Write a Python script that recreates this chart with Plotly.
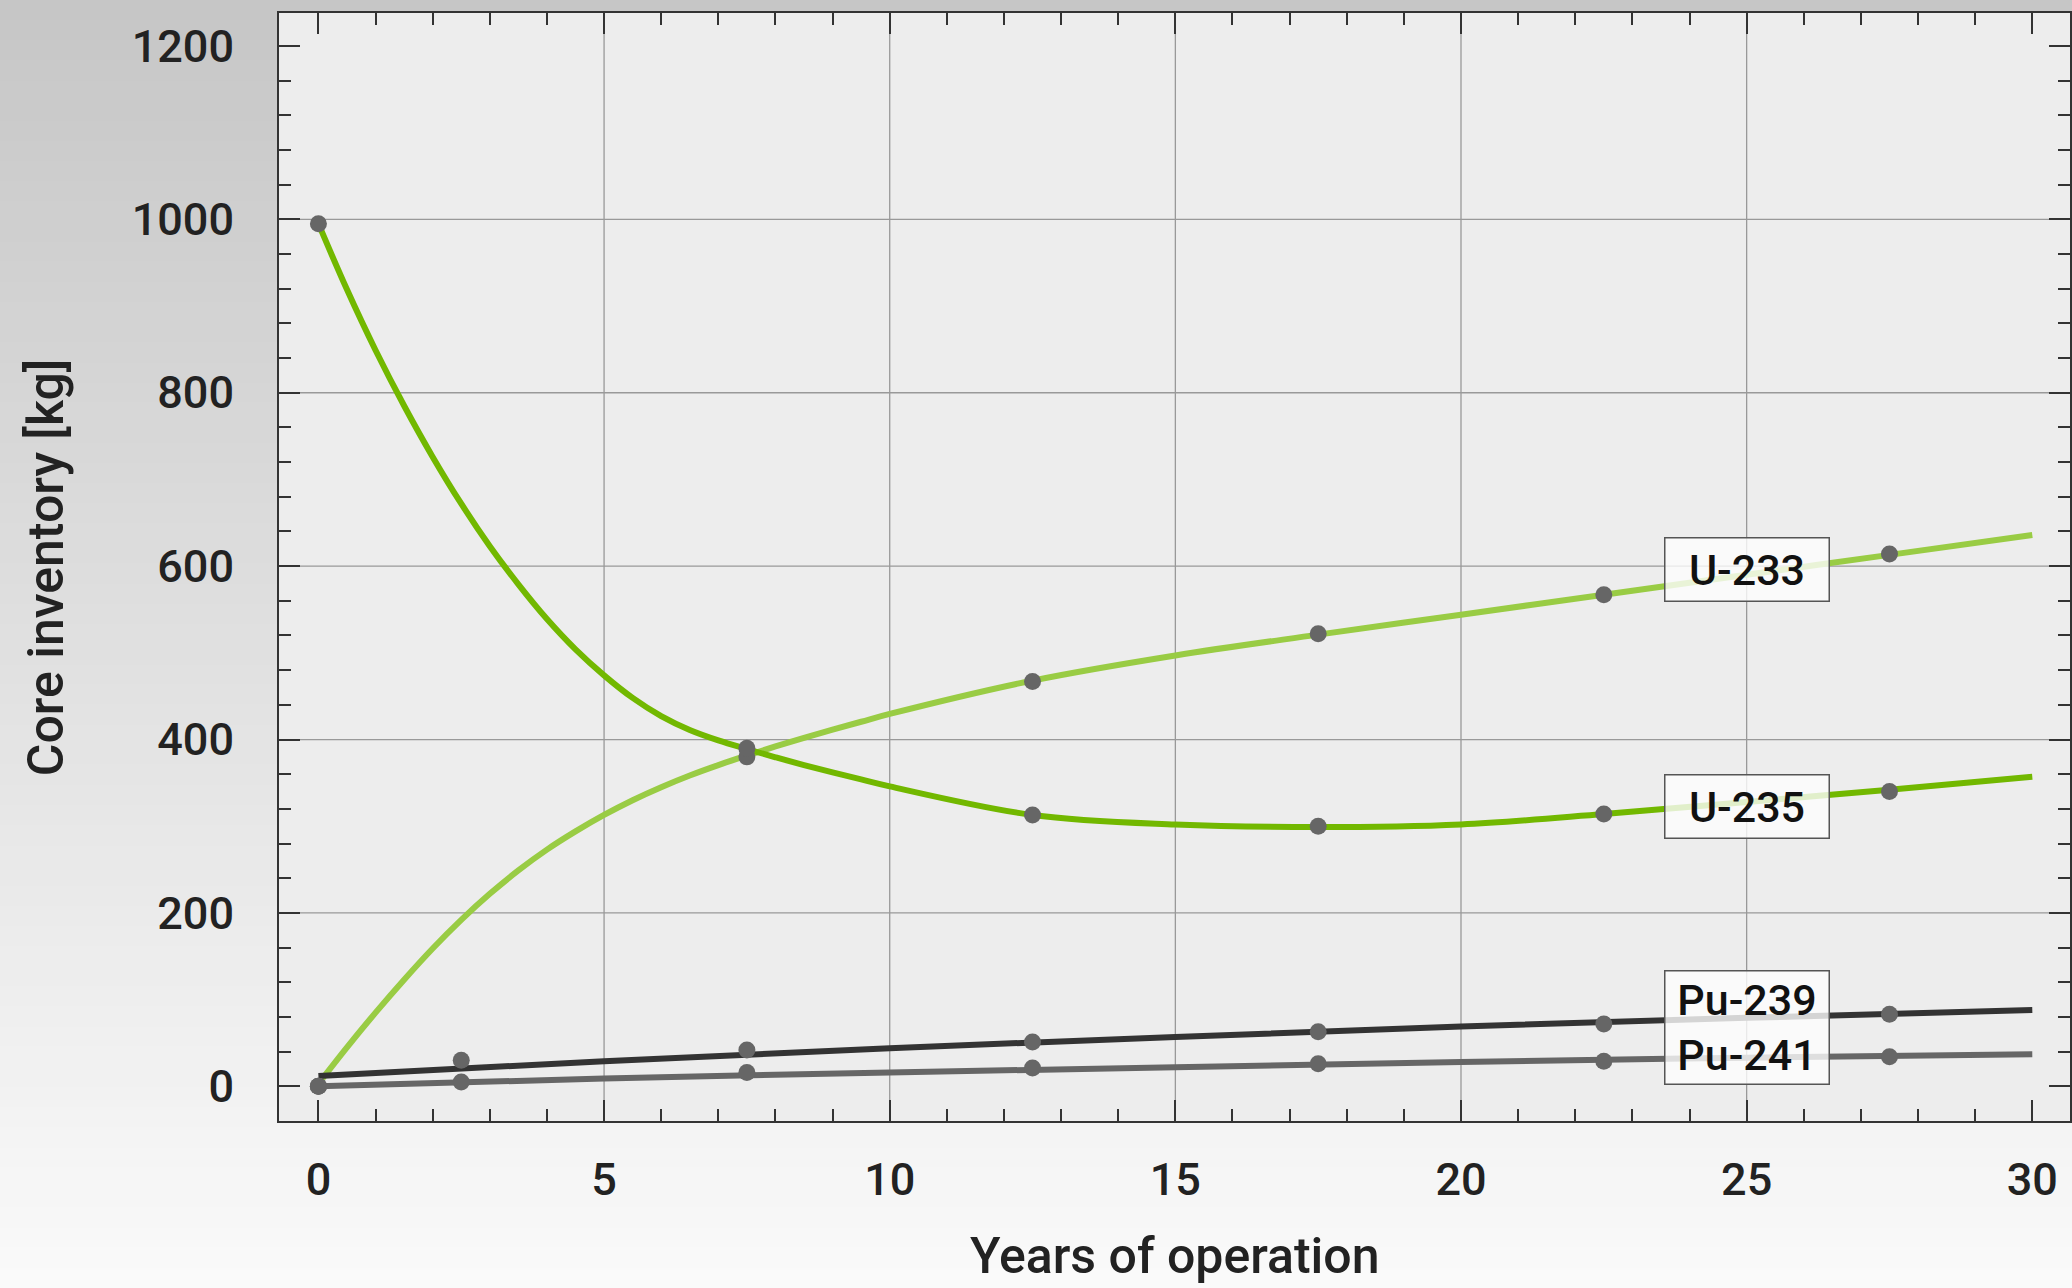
import plotly.graph_objects as go

W, H = 2072, 1288
ML, MR, MT, MB = 279, 0, 13, 167

# ---- data ----
u235_x = [0, 0.5, 1, 1.5, 2, 2.5, 3, 3.5, 4, 4.5, 5, 5.5, 6, 6.5, 7, 7.5, 8, 8.5, 9, 9.5, 10,
          12.5, 15, 17.5, 20, 22.5, 25, 27.5, 30]
u235_curve = [995, 919, 849, 785, 726, 672, 623, 579, 539, 504, 474, 448, 427, 411, 399, 389, 379.5, 370.5,
              362, 354, 346, 313, 302, 299, 302, 314, 328, 342, 357]

u233_x = [0, 0.5, 1, 1.5, 2, 2.5, 3, 3.5, 4, 4.5, 5, 5.5, 6, 6.5, 7, 7.5, 8, 8.5, 9, 9.5, 10,
          12.5, 15, 17.5, 20, 22.5, 25, 27.5, 30]
u233_curve = [3, 45, 85, 123, 159, 192, 222, 249, 273, 294, 313, 330, 345, 358.5, 370.5, 381.5, 392, 402,
              411.5, 420.5, 429.5, 468, 497, 521, 544, 567, 590, 613, 636]

pu_x = [0, 5, 10, 15, 20, 25, 30]
pu239_curve = [12, 29, 44, 57, 69, 79, 88]
pu241_curve = [0, 9, 16, 22, 28, 33, 37]

u_pts_x = [0, 7.5, 12.5, 17.5, 22.5, 27.5]
u235_pts = [995, 390, 313, 300, 314, 340]
u233_pts = [0, 380, 467, 522, 567, 614]

pu_pts_x = [0, 2.5, 7.5, 12.5, 17.5, 22.5, 27.5]
pu239_pts = [0, 30, 42, 51, 63, 72, 83]
pu241_pts = [0, 5, 16, 21, 26, 29, 34]

label_x = [25, 25, 25]
label_y = [596.5, 323, 67.5]
label_text = ["U-233", "U-235", "Pu-239<br>Pu-241"]
label_h = [60, 60, 110]

x_grid = [5, 10, 15, 20, 25]
y_grid = [200, 400, 600, 800, 1000]

x_range = [-0.69, 30.66]
y_range = [-40, 1238]

# ---- styles ----
FONT = "Roboto, 'Open Sans', 'Liberation Sans', sans-serif"
TXT = "#222222"
C_U235 = "#72b800"
C_U233 = "#99cc44"
C_PU239 = "#333333"
C_PU241 = "#666666"
C_MARK = "#666666"
LW = 6
WEIGHT = 500

fig = go.Figure()

series = [
    ("U-233", u233_x, u233_curve, C_U233),
    ("U-235", u235_x, u235_curve, C_U235),
    ("Pu-241", pu_x, pu241_curve, C_PU241),
    ("Pu-239", pu_x, pu239_curve, C_PU239),
]
for name, xs, ys, col in series:
    fig.add_trace(go.Scatter(x=xs, y=ys, mode="lines", name=name,
                             line=dict(color=col, width=LW, shape="spline", smoothing=1.0),
                             showlegend=False, hoverinfo="skip"))

pts = [
    ("U-233 data", u_pts_x, u233_pts),
    ("U-235 data", u_pts_x, u235_pts),
    ("Pu-241 data", pu_pts_x, pu241_pts),
    ("Pu-239 data", pu_pts_x, pu239_pts),
]
for name, xs, ys in pts:
    fig.add_trace(go.Scatter(x=xs, y=ys, mode="markers", name=name,
                             marker=dict(color=C_MARK, size=17, line=dict(width=0)),
                             showlegend=False))

# ---- background: vertical gradient (paper) + plot area ----
pw = W - ML - MR
ph = H - MT - MB
px0 = -ML / pw - 0.01
px1 = 1 + MR / pw + 0.01
shapes = []
N = 64
for i in range(N):
    top_px = H * i / N - (2 if i == 0 else 0)
    bot_px = H * (i + 1) / N + 1
    t = (i + 0.5) / N
    g = int(round(198 + 52 * t))
    y_top = 1 + (MT - top_px) / ph
    y_bot = 1 + (MT - bot_px) / ph
    shapes.append(dict(type="rect", xref="paper", yref="paper",
                       x0=px0, x1=px1, y0=y_bot, y1=y_top,
                       fillcolor=f"rgb({g},{g},{g})", line=dict(width=0), layer="below"))
shapes.append(dict(type="rect", xref="paper", yref="paper", x0=0, x1=1, y0=0, y1=1,
                   fillcolor="#ededed", line=dict(width=0), layer="below"))
for gx in x_grid:
    shapes.append(dict(type="line", xref="x", yref="paper", x0=gx, x1=gx, y0=0, y1=1,
                       line=dict(color="#999999", width=1.3), layer="below"))
for gy in y_grid:
    shapes.append(dict(type="line", xref="paper", yref="y", x0=0, x1=1, y0=gy, y1=gy,
                       line=dict(color="#999999", width=1.3), layer="below"))

annotations = []
for lx, ly, lt, lh in zip(label_x, label_y, label_text, label_h):
    annotations.append(dict(x=lx, y=ly, xref="x", yref="y", text=lt, showarrow=False,
                            xanchor="center", yanchor="middle",
                            font=dict(family=FONT, size=43, color="#111111", weight=WEIGHT),
                            bgcolor="rgba(252,252,252,0.8)", bordercolor="#555555",
                            borderwidth=1.5, borderpad=1, width=161, height=lh))

annotations.append(dict(x=0.5, y=-(1256 - (H - MB)) / ph, xref="paper", yref="paper",
                        text="Years of operation", showarrow=False,
                        xanchor="center", yanchor="middle",
                        font=dict(family=FONT, size=50, color=TXT, weight=WEIGHT)))
annotations.append(dict(x=(46 - ML) / pw, y=0.5, xref="paper", yref="paper",
                        text="Core inventory [kg]", showarrow=False, textangle=-90,
                        xanchor="center", yanchor="middle",
                        font=dict(family=FONT, size=50, color=TXT, weight=WEIGHT)))

axis_common = dict(showgrid=False, zeroline=False, showline=True, linecolor="#333333",
                   linewidth=2, mirror="allticks", ticks="inside", tickcolor="#333333",
                   ticklen=21, tickwidth=2,
                   tickfont=dict(family=FONT, size=45, color=TXT, weight=WEIGHT))

fig.update_layout(
    width=W, height=H,
    margin=dict(l=ML, r=MR, t=MT, b=MB, pad=0),
    paper_bgcolor="#f4f4f4",
    plot_bgcolor="#ededed",
    shapes=shapes,
    annotations=annotations,
    xaxis=dict(range=x_range, tickmode="linear", tick0=0, dtick=5,
               ticklabelstandoff=18,
               minor=dict(tick0=0, dtick=1, ticks="inside", ticklen=12, tickwidth=1.5,
                          tickcolor="#333333", showgrid=False),
               **axis_common),
    yaxis=dict(range=y_range, tickmode="linear", tick0=0, dtick=200,
               ticklabelstandoff=34,
               minor=dict(tick0=0, dtick=40, ticks="inside", ticklen=12, tickwidth=1.5,
                          tickcolor="#333333", showgrid=False),
               **axis_common),
    showlegend=False,
)

fig.write_html(
    "out.html",
    config={"displayModeBar": False},
    post_script="document.body.style.margin='0';document.body.style.overflow='hidden';",
)
